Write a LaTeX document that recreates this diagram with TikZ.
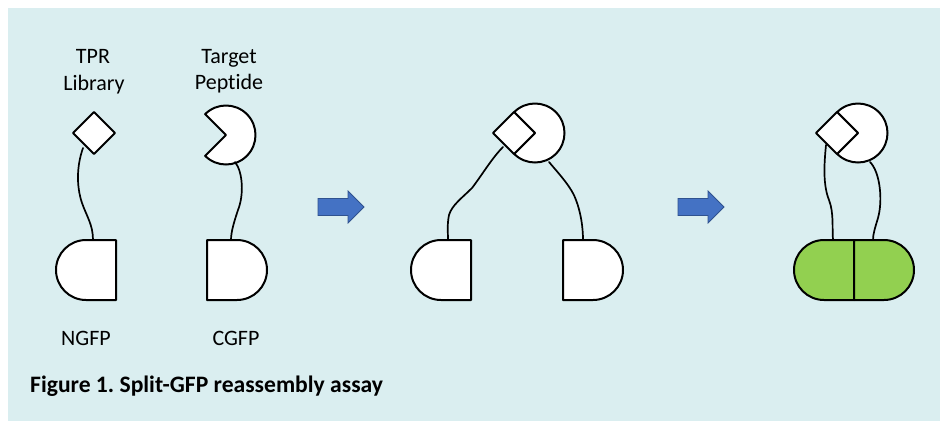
\documentclass[tikz,border=0pt]{standalone}
\usepackage{fontspec}
\setmainfont{Carlito}[Ligatures=NoCommon]
\frenchspacing
\definecolor{panelbg}{HTML}{DAEEF0}
\definecolor{gfpgreen}{HTML}{92D050}
\definecolor{arrowfill}{HTML}{4472C4}
\definecolor{arrowedge}{HTML}{2F528F}
\begin{document}
\begin{tikzpicture}[x=1pt,y=1pt,
  part/.style={draw=black,line width=2pt,line join=round},
  tether/.style={draw=black,line width=1.7pt,line cap=round},
  label/.style={font=\fontsize{22}{26}\selectfont,anchor=base,inner sep=0pt},
  caption/.style={font=\fontsize{23.6}{28}\selectfont\bfseries,anchor=base west,inner sep=0pt},
  % N-terminal half: flat side on the right, origin at the middle of the flat side
  pics/nhalf/.style={code={\draw[part,fill=#1] (0,30) -- (0,-30) -- (-30,-30) arc (270:90:30) -- cycle;}},
  pics/nhalf/.default=white,
  % C-terminal half: flat side on the left
  pics/chalf/.style={code={\draw[part,fill=#1] (0,30) -- (0,-30) -- (30,-30) arc (-90:90:30) -- cycle;}},
  pics/chalf/.default=white,
  % peptide with a right-angled notch facing left
  pics/notched/.style={code={\draw[part,fill=white] (0,0) -- (135:29.5) arc (135:-135:29.5) -- cycle;}},
  % TPR binder
  pics/rhomb/.style={code={\draw[part,fill=white] (-21,0) -- (0,21) -- (21,0) -- (0,-21) -- cycle;}},
  % block arrow between the stages
  pics/fwdarrow/.style={code={\draw[fill=arrowfill,draw=arrowedge,line width=0.8pt,line join=miter]
      (0,8.5) -- (30,8.5) -- (30,16) -- (46,0) -- (30,-16) -- (30,-8.5) -- (0,-8.5) -- cycle;}}
]
\useasboundingbox (0,0) rectangle (940,-429);
\fill[white] (0,0) rectangle (940,-429);
\fill[panelbg] (8,-8) rectangle (940,-421);

% ---------- stage 1: separate fusions ----------
\node[label] (tprA) at (93,-63) {TPR};
\node[label] (tprB) at (94,-90) {Library};
\node[label] (tgtA) at (229,-63) {Target};
\node[label] (tgtB) at (229,-89) {Peptide};

\pic at (226,-135) {notched};
\pic at (94,-133) {rhomb};
\pic at (116,-270) {nhalf};
\pic at (207,-270) {chalf};

\coordinate (s1r) at (83,-148);
\coordinate (s1p) at (235,-162);
\coordinate (s1n) at (93,-240);
\coordinate (s1c) at (231,-240);
\draw[tether] (s1r) .. controls (77,-165) and (76,-185) .. (82,-203)
                    .. controls (87,-217) and (93,-225) .. (s1n);
\draw[tether] (s1p) .. controls (243,-172) and (244,-195) .. (238,-210)
                    .. controls (234,-222) and (231,-232) .. (s1c);

\node[label] (ngfp) at (86,-345) {NGFP};
\node[label] (cgfp) at (236,-345) {CGFP};

\pic at (318,-207) {fwdarrow};

% ---------- stage 2: binder meets peptide ----------
\pic at (535,-133) {notched};
\pic at (514,-133) {rhomb};
\pic at (471,-270) {nhalf};
\pic at (563,-270) {chalf};

\coordinate (s2r) at (503,-147);
\coordinate (s2p) at (549,-162);
\coordinate (s2n) at (448,-240);
\coordinate (s2c) at (583,-240);
\draw[tether] (s2r) .. controls (492,-158) and (482,-175) .. (472,-188)
                    .. controls (462,-198) and (452,-205) .. (449,-215)
                    .. controls (447,-225) and (448,-232) .. (s2n);
\draw[tether] (s2p) .. controls (560,-175) and (572,-188) .. (576,-200)
                    .. controls (581,-213) and (583,-228) .. (s2c);

\pic at (678,-207) {fwdarrow};

% ---------- stage 3: reassembled GFP ----------
\pic at (858,-133) {notched};
\pic at (837,-133) {rhomb};
\pic at (854,-270) {nhalf=gfpgreen};
\pic at (854,-270) {chalf=gfpgreen};

\coordinate (s3r) at (826,-145);
\coordinate (s3p) at (870,-162);
\coordinate (s3n) at (833,-240);
\coordinate (s3c) at (873,-240);
\draw[tether] (s3r) .. controls (824,-165) and (823,-185) .. (829,-200)
                    .. controls (834,-213) and (832,-228) .. (s3n);
\draw[tether] (s3p) .. controls (880,-172) and (883,-200) .. (878,-218)
                    .. controls (875,-228) and (873,-234) .. (s3c);

\node[caption] (cap) at (30,-392) {Figure 1. Split-GFP reassembly assay};
\end{tikzpicture}
\end{document}
